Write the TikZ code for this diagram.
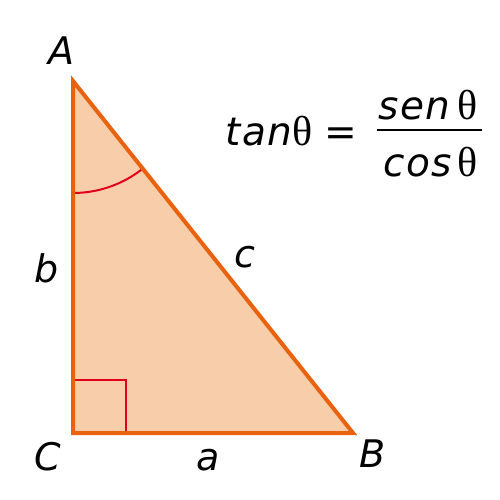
\documentclass[tikz,border=0pt]{standalone}
\usepackage{fontspec}
\setmainfont{DejaVu Sans}
\newfontfamily\thetafont{Liberation Serif}
\newfontfamily\frmfont[LetterSpace=4]{DejaVu Sans}
\definecolor{trifill}{HTML}{F8CDAA}
\definecolor{tristroke}{HTML}{E8620F}
\definecolor{markred}{HTML}{E2001A}
\newcommand{\thsym}{{\thetafont\upshape\fontsize{42}{44}\selectfont θ}}
\begin{document}
\begin{tikzpicture}[x=1pt,y=-1pt,
  lab/.style={inner sep=0pt,font=\fontsize{38}{40}\selectfont\itshape},
  frm/.style={inner sep=0pt,font=\fontsize{39}{42}\selectfont\frmfont\itshape}]
\useasboundingbox (0,0) rectangle (500,500);
\coordinate (A) at (73,81);
\coordinate (C) at (73,433);
\coordinate (B) at (353,433);
\fill[trifill] (A) -- (B) -- (C) -- cycle;
\draw[markred, line width=2pt] (73,380) -- (126,380) -- (126,433);
\draw[markred, line width=2pt] (73,193) arc[start angle=90, end angle={90-atan(280/352)}, radius=112];
\draw[tristroke, line width=4pt, line join=miter] (A) -- (B) -- (C) -- cycle;
\node[lab] (lA) at (61,51) {A};
\node[lab] (lB) at (373,454) {B};
\node[lab] (lC) at (48,457) {C};
\node[lab] (la) at (208,460) {a};
\node[lab] (lb) at (47,268) {b};
\node[lab] (lc) at (245,257) {c};
\node[frm, anchor=base west] (tan) at (225,145) {tan};
\node[inner sep=0pt, anchor=base east] (t1) at (313,145) {\thsym};
\node[frm, anchor=base] (eq) at (341,145) {=};
\coordinate (bl) at (377,130);
\coordinate (br) at (482,130);
\draw[line width=2pt] (bl) -- (br);
\node[frm, anchor=base west] (sen) at (378,119) {sen};
\node[inner sep=0pt, anchor=base east] (t2) at (478,119) {\thsym};
\node[frm, anchor=base west] (cos) at (383,176) {cos};
\node[inner sep=0pt, anchor=base east] (t3) at (478,176) {\thsym};
\end{tikzpicture}
\end{document}
